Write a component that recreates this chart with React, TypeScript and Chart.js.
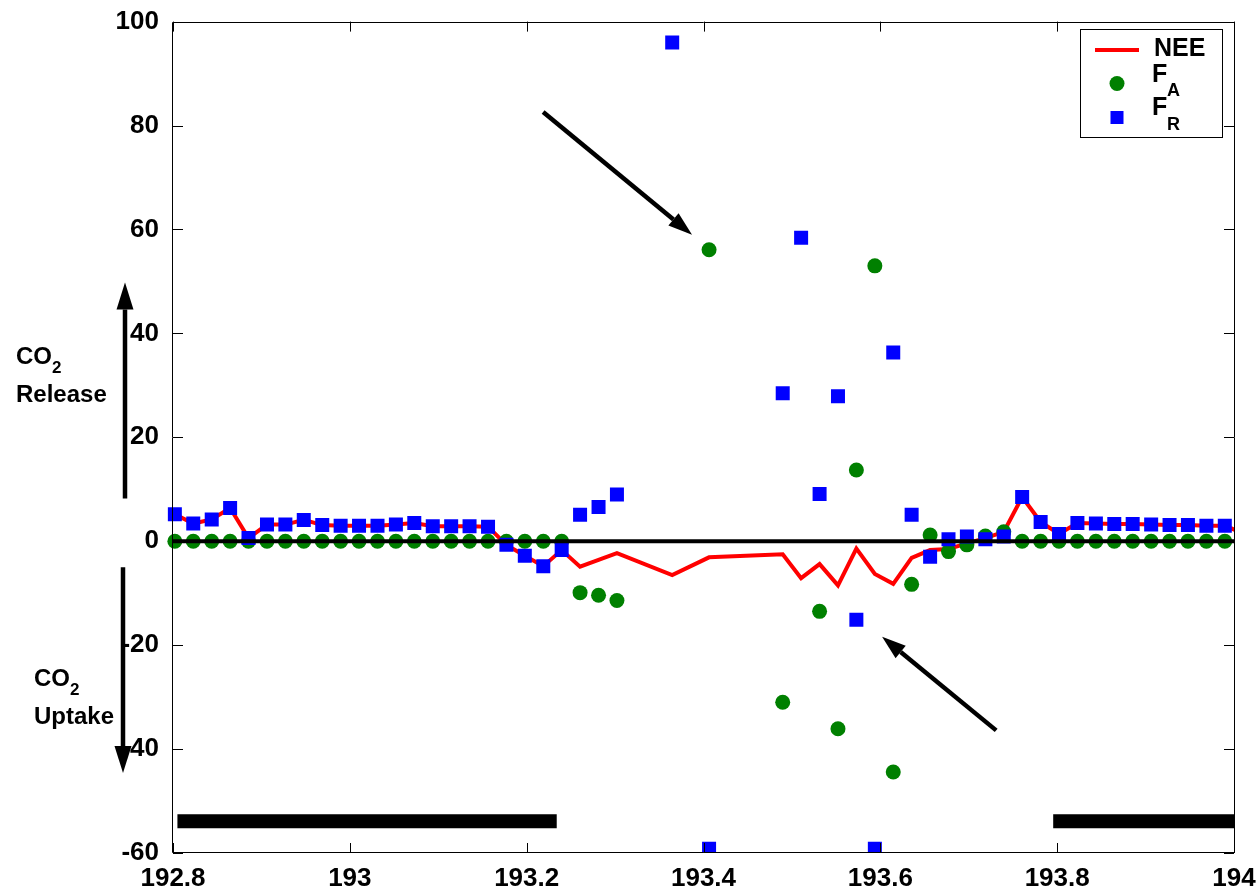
import React, { useEffect, useRef } from "react";
import { Chart, registerables } from "chart.js";

Chart.register(...registerables);

// Day of year (half-hourly)
const TIMES = [
  192.8021, 192.8229, 192.8438, 192.8646, 192.8854, 192.9063, 192.9271, 192.9479, 192.9688, 192.9896,
  193.0104, 193.0313, 193.0521, 193.0729, 193.0938, 193.1146, 193.1354, 193.1563, 193.1771, 193.1979,
  193.2188, 193.2396, 193.2604, 193.2813, 193.3021, 193.3229, 193.3438, 193.3646, 193.3854, 193.4063,
  193.4271, 193.4479, 193.4688, 193.4896, 193.5104, 193.5313, 193.5521, 193.5729, 193.5938, 193.6146,
  193.6354, 193.6563, 193.6771, 193.6979, 193.7188, 193.7396, 193.7604, 193.7813, 193.8021, 193.8229,
  193.8438, 193.8646, 193.8854, 193.9063, 193.9271, 193.9479, 193.9688, 193.9896, 194.0104,
];

const NEE = [
  5.2, 3.4, 4.2, 6.4, 0.6, 3.2, 3.2, 4.1, 3.1, 3.0,
  3.0, 3.0, 3.2, 3.5, 2.9, 2.9, 2.9, 2.8, -0.7, -2.8,
  -4.8, -1.7, -4.9, -3.6, -2.3, null, null, -6.5, null, -3.1,
  null, null, null, -2.5, -7.1, -4.4, -8.5, -1.4, -6.3, -8.2,
  -3.2, -1.7, -1.5, -0.4, 0.6, 1.8, 8.5, 3.7, 1.4, 3.5,
  3.4, 3.3, 3.3, 3.2, 3.1, 3.1, 3.0, 3.0, 1.5,
];

const FA = [
  0, 0, 0, 0, 0, 0, 0, 0, 0, 0,
  0, 0, 0, 0, 0, 0, 0, 0, 0, 0,
  0, 0, -9.9, -10.4, -11.4, null, null, null, null, 56.1,
  null, null, null, -31.0, null, -13.5, -36.1, 13.7, 53.0, -44.4,
  -8.3, 1.2, -2.0, -0.7, 1.0, 1.8, 0, 0, 0, 0,
  0, 0, 0, 0, 0, 0, 0, 0, null,
];

const FR = [
  5.2, 3.4, 4.2, 6.4, 0.6, 3.2, 3.2, 4.1, 3.1, 3.0,
  3.0, 3.0, 3.2, 3.5, 2.9, 2.9, 2.9, 2.8, -0.7, -2.8,
  -4.8, -1.7, 5.1, 6.6, 9.0, null, null, 96.0, null, -59.2,
  null, null, null, 28.5, 58.4, 9.1, 27.9, -15.1, -59.2, 36.3,
  5.1, -3.0, 0.4, 0.9, 0.4, 0.9, 8.5, 3.7, 1.4, 3.5,
  3.4, 3.3, 3.3, 3.2, 3.1, 3.1, 3.0, 3.0, null,
];

const X_TICKS = [192.8, 193, 193.2, 193.4, 193.6, 193.8, 194];
const Y_TICKS = [-60, -40, -20, 0, 20, 40, 60, 80, 100];

// night periods (black bars)
const NIGHT_START = [192.805, 193.7955];
const NIGHT_END = [193.234, 194.004];
const NIGHT_LEVEL = -53.9;

// annotation arrows [x1, y1, x2, y2] in data units
const ARROW_A = [193.2186, 82.6, 193.387, 59.0];
const ARROW_B = [193.731, -36.4, 193.602, -18.4];
// vertical arrows in the left margin (y data values)
const UP_ARROW = [8.2, 49.8];
const DOWN_ARROW = [-5.0, -44.6];

const FONT = "'Liberation Sans', Arial, Helvetica, sans-serif";

function drawArrow(ctx: CanvasRenderingContext2D, x1: number, y1: number, x2: number, y2: number, lw: number, hl: number, hw: number) {
  const ang = Math.atan2(y2 - y1, x2 - x1);
  const bx = x2 - hl * Math.cos(ang);
  const by = y2 - hl * Math.sin(ang);
  ctx.lineWidth = lw;
  ctx.lineCap = "butt";
  ctx.beginPath();
  ctx.moveTo(x1, y1);
  ctx.lineTo(bx, by);
  ctx.stroke();
  ctx.beginPath();
  ctx.moveTo(x2, y2);
  ctx.lineTo(bx + (hw / 2) * Math.sin(ang), by - (hw / 2) * Math.cos(ang));
  ctx.lineTo(bx - (hw / 2) * Math.sin(ang), by + (hw / 2) * Math.cos(ang));
  ctx.closePath();
  ctx.fill();
}

const decorPlugin = {
  id: "decor",
  afterDraw(chart: any) {
    const { ctx, chartArea: a, scales } = chart;
    const xs = scales.x;
    const ys = scales.y;
    ctx.save();
    ctx.strokeStyle = "#000";
    ctx.fillStyle = "#000";
    ctx.lineWidth = 1;
    // frame
    ctx.beginPath();
    ctx.rect(Math.round(a.left) - 0.5, Math.round(a.top) + 0.5, Math.round(a.right - a.left) + 1, Math.round(a.bottom - a.top) - 1);
    ctx.stroke();
    // inward ticks
    ctx.beginPath();
    X_TICKS.forEach((v) => {
      const px = Math.round(xs.getPixelForValue(v)) + 0.5;
      ctx.moveTo(px, a.bottom);
      ctx.lineTo(px, a.bottom - 10);
      ctx.moveTo(px, a.top);
      ctx.lineTo(px, a.top + 10);
    });
    Y_TICKS.forEach((v) => {
      const py = Math.round(ys.getPixelForValue(v)) + 0.5;
      ctx.moveTo(a.left, py);
      ctx.lineTo(a.left + 10, py);
      ctx.moveTo(a.right, py);
      ctx.lineTo(a.right - 10, py);
    });
    ctx.stroke();

    // diagonal arrows
    [ARROW_A, ARROW_B].forEach((ar) => {
      drawArrow(ctx, xs.getPixelForValue(ar[0]), ys.getPixelForValue(ar[1]), xs.getPixelForValue(ar[2]), ys.getPixelForValue(ar[3]), 4.5, 24, 16);
    });
    // vertical arrows in the margin
    drawArrow(ctx, a.left - 48, ys.getPixelForValue(UP_ARROW[0]), a.left - 48, ys.getPixelForValue(UP_ARROW[1]), 4.5, 27, 17);
    drawArrow(ctx, a.left - 50, ys.getPixelForValue(DOWN_ARROW[0]), a.left - 50, ys.getPixelForValue(DOWN_ARROW[1]), 4.5, 27, 17);

    // margin texts
    ctx.textAlign = "left";
    ctx.textBaseline = "alphabetic";
    const big = `bold 24px ${FONT}`;
    const small = `bold 17px ${FONT}`;
    const co2 = (x: number, y: number) => {
      ctx.font = big;
      ctx.fillText("CO", x, y);
      const w = ctx.measureText("CO").width;
      ctx.font = small;
      ctx.fillText("2", x + w, y + 9);
    };
    co2(16, 364);
    ctx.font = big;
    ctx.fillText("Release", 16, 402);
    co2(34, 686);
    ctx.font = big;
    ctx.fillText("Uptake", 34, 724);

    // legend
    const lx = 1080.5, ly = 29.5, lw = 142, lh = 108;
    ctx.fillStyle = "#fff";
    ctx.fillRect(lx, ly, lw, lh);
    ctx.strokeStyle = "#000";
    ctx.lineWidth = 1;
    ctx.strokeRect(lx, ly, lw, lh);
    ctx.strokeStyle = "#ff0000";
    ctx.lineWidth = 4;
    ctx.beginPath();
    ctx.moveTo(1095, 50);
    ctx.lineTo(1139, 50);
    ctx.stroke();
    ctx.fillStyle = "#008000";
    ctx.beginPath();
    ctx.arc(1117, 83.5, 7.5, 0, Math.PI * 2);
    ctx.fill();
    ctx.fillStyle = "#0000ff";
    ctx.fillRect(1110.5, 111, 13, 13);
    ctx.fillStyle = "#000";
    ctx.font = `bold 25px ${FONT}`;
    ctx.fillText("NEE", 1154, 56);
    ctx.fillText("F", 1152, 82);
    ctx.fillText("F", 1152, 115);
    ctx.font = `bold 18px ${FONT}`;
    ctx.fillText("A", 1167, 96);
    ctx.fillText("R", 1167, 130);
    ctx.restore();
  },
};

export default function App() {
  const ref = useRef<HTMLCanvasElement | null>(null);
  useEffect(() => {
    if (!ref.current) return;
    const pts = (arr: (number | null)[]) => TIMES.map((t, i) => ({ x: t, y: arr[i] === undefined ? null : arr[i] }));
    const night: any[] = [];
    NIGHT_START.forEach((s, i) => {
      if (i > 0) night.push({ x: (NIGHT_END[i - 1] + s) / 2, y: null });
      night.push({ x: s, y: NIGHT_LEVEL });
      night.push({ x: NIGHT_END[i], y: NIGHT_LEVEL });
    });
    const tickFont = { family: FONT, size: 26, weight: "bold" as const };
    const chart = new Chart(ref.current, {
      type: "scatter",
      data: {
        datasets: [
          {
            label: "zero",
            data: [{ x: X_TICKS[0], y: 0 }, { x: X_TICKS[X_TICKS.length - 1], y: 0 }],
            showLine: true,
            borderColor: "#000",
            borderWidth: 4,
            pointRadius: 0,
            borderCapStyle: "butt",
            order: 0,
          },
          {
            label: "night",
            data: night,
            showLine: true,
            spanGaps: false,
            borderColor: "#000",
            borderWidth: 14,
            pointRadius: 0,
            borderCapStyle: "butt",
            order: 1,
          },
          {
            label: "FR",
            data: pts(FR),
            showLine: false,
            pointStyle: "rect",
            pointRadius: 9.9,
            pointBackgroundColor: "#0000ff",
            backgroundColor: "#0000ff",
            pointBorderWidth: 0,
            borderWidth: 0,
            order: 2,
            clip: { left: 20, top: 20, right: 20, bottom: 0 },
          },
          {
            label: "FA",
            data: pts(FA),
            showLine: false,
            pointStyle: "circle",
            pointRadius: 7.5,
            pointBackgroundColor: "#008000",
            backgroundColor: "#008000",
            pointBorderWidth: 0,
            borderWidth: 0,
            order: 3,
            clip: { left: 20, top: 20, right: 20, bottom: 0 },
          },
          {
            label: "NEE",
            data: pts(NEE),
            showLine: true,
            spanGaps: true,
            borderColor: "#ff0000",
            borderWidth: 4,
            pointRadius: 0,
            tension: 0,
            order: 4,
            clip: { left: 10, top: 10, right: 0, bottom: 10 },
          },
        ],
      } as any,
      options: {
        responsive: false,
        animation: false,
        devicePixelRatio: 1,
        events: [],
        layout: { padding: { top: 18, right: 26, bottom: 0, left: 0 } },
        plugins: { legend: { display: false }, tooltip: { enabled: false }, title: { display: false } },
        scales: {
          x: {
            type: "linear",
            min: 192.8,
            max: 194,
            grid: { display: false },
            border: { display: false },
            afterBuildTicks: (s: any) => {
              s.ticks = X_TICKS.map((v) => ({ value: v }));
            },
            afterFit: (s: any) => {
              s.height = 39;
            },
            ticks: {
              font: tickFont,
              color: "#000",
              padding: 2,
              maxRotation: 0,
              autoSkip: false,
              callback: (v: any) => String(v),
            },
          },
          y: {
            type: "linear",
            min: -60,
            max: 100,
            grid: { display: false },
            border: { display: false },
            afterBuildTicks: (s: any) => {
              s.ticks = Y_TICKS.map((v) => ({ value: v }));
            },
            afterFit: (s: any) => {
              s.width = 173;
            },
            ticks: {
              font: tickFont,
              color: "#000",
              padding: 6,
              autoSkip: false,
              callback: (v: any) => String(v),
            },
          },
        },
      } as any,
      plugins: [decorPlugin],
    });
    return () => chart.destroy();
  }, []);
  return (
    <div style={{ position: "absolute", left: 0, top: 0, width: 1260, height: 892, background: "#fff" }}>
      <canvas ref={ref} width={1260} height={892} style={{ display: "block" }} />
    </div>
  );
}
